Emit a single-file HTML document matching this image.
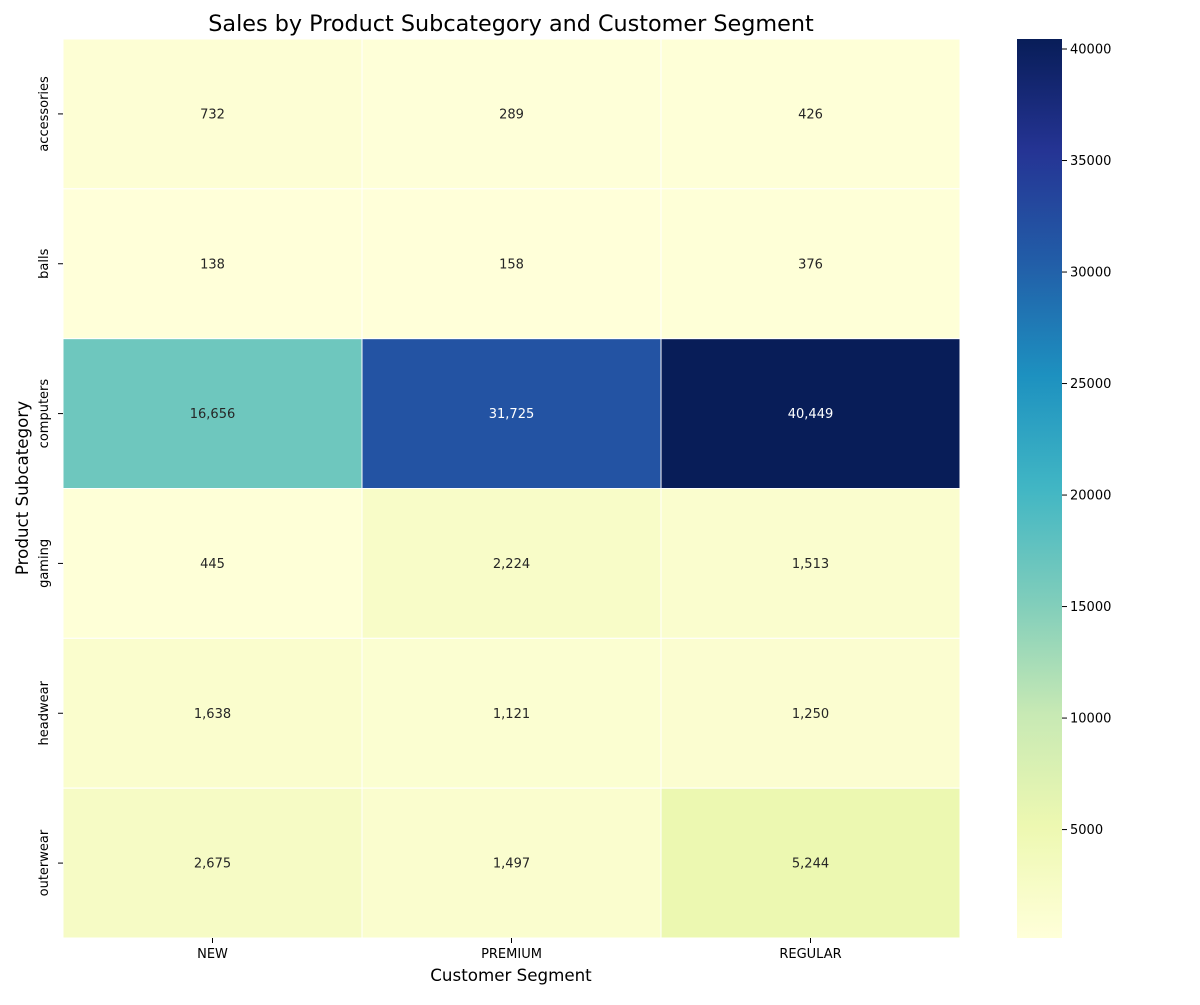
<!DOCTYPE html>
<html><head><meta charset="utf-8"><style>
body{margin:0;background:#fff;}
svg text{font-family:"DejaVu Sans","Liberation Sans",sans-serif;}
</style></head><body>
<svg id="chart" width="1200" height="1000" xmlns="http://www.w3.org/2000/svg">
<defs><linearGradient id="cbg" x1="0" y1="1" x2="0" y2="0">
<stop offset="0" stop-color="#ffffd9"/><stop offset="0.125" stop-color="#edf8b1"/><stop offset="0.25" stop-color="#c7e9b4"/><stop offset="0.375" stop-color="#7fcdbb"/><stop offset="0.5" stop-color="#41b6c4"/><stop offset="0.625" stop-color="#1d91c0"/><stop offset="0.75" stop-color="#225ea8"/><stop offset="0.875" stop-color="#253494"/><stop offset="1" stop-color="#081d58"/>
</linearGradient></defs>
<text x="511" y="31" font-size="22.3" text-anchor="middle" fill="#000">Sales by Product Subcategory and Customer Segment</text>
<text x="511" y="981" font-size="16.7" text-anchor="middle" fill="#000">Customer Segment</text>
<text transform="translate(28,488) rotate(-90)" font-size="16.7" text-anchor="middle" fill="#000">Product Subcategory</text>
<g id="cells"></g>
<rect x="1017" y="39" width="45" height="899" fill="url(#cbg)"/>
<g id="cbticks"></g>
</svg>
<script>
const columns = ["NEW","PREMIUM","REGULAR"];
const rows = ["accessories","balls","computers","gaming","headwear","outerwear"];
const values = [
 [732,289,426],
 [138,158,376],
 [16656,31725,40449],
 [445,2224,1513],
 [1638,1121,1250],
 [2675,1497,5244]
];
const cbTicks = [5000,10000,15000,20000,25000,30000,35000,40000];

const ns="http://www.w3.org/2000/svg";
const X0=63,X1=960,Y0=39,Y1=938;
const stops=["#ffffd9","#edf8b1","#c7e9b4","#7fcdbb","#41b6c4","#1d91c0","#225ea8","#253494","#081d58"].map(h=>[1,3,5].map(i=>parseInt(h.substr(i,2),16)));
const flat=values.flat();
const vmin=Math.min(...flat), vmax=Math.max(...flat);
function color(v){
  let t=(v-vmin)/(vmax-vmin); t=Math.max(0,Math.min(1,t));
  const p=t*8, i=Math.min(7,Math.floor(p)), f=p-i;
  return stops[i].map((c,k)=>c+(stops[i+1][k]-c)*f);
}
const cw=(X1-X0)/columns.length, rh=(Y1-Y0)/rows.length;
const xs=i=>X0+i*cw, ys=j=>Y0+j*rh;
const cells=document.getElementById('cells');
function mk(tag,attrs,parent){const e=document.createElementNS(ns,tag);for(const k in attrs)e.setAttribute(k,attrs[k]);(parent||cells).appendChild(e);return e;}
rows.forEach((r,j)=>{
  columns.forEach((c,i)=>{
    const v=values[j][i], col=color(v);
    const rect=mk('rect',{x:xs(i),y:ys(j),width:cw,height:rh,fill:`rgb(${col.map(Math.round).join(',')})`,stroke:'#fff','stroke-width':1});
    
    
    const lum=(0.2126*col[0]+0.7152*col[1]+0.0722*col[2])/255;
    const t=mk('text',{x:xs(i)+cw/2,y:ys(j)+rh/2+4.5,'font-size':13,'text-anchor':'middle',fill:lum<0.408?'#fff':'#262626'});
    t.textContent=v.toLocaleString('en-US');
    
    
  });
  const tk=mk('line',{x1:X0-5,x2:X0,y1:ys(j)+rh/2,y2:ys(j)+rh/2,stroke:'#000'});
  
  
  const lb=mk('text',{transform:`translate(${X0-15},${ys(j)+rh/2}) rotate(-90)`,'font-size':13,'text-anchor':'middle',fill:'#000'});
  lb.textContent=r;
  
  
});
columns.forEach((c,i)=>{
  const tk=mk('line',{x1:xs(i)+cw/2,x2:xs(i)+cw/2,y1:Y1,y2:Y1+5,stroke:'#000'});
  
  
  const lb=mk('text',{x:xs(i)+cw/2,y:Y1+20,'font-size':13,'text-anchor':'middle',fill:'#000'});
  lb.textContent=c;
  
  
});
const cbt=document.getElementById('cbticks');
cbTicks.forEach(v=>{
  const y=Y1-(v-vmin)/(vmax-vmin)*(Y1-Y0);
  const l=mk('line',{x1:1062,x2:1067,y1:y,y2:y,stroke:'#000'},cbt);
  
  
  const t=mk('text',{x:1070,y:y+4.5,'font-size':13,fill:'#000'},cbt);
  t.textContent=v;
  
  
});
</script>
</body></html>
